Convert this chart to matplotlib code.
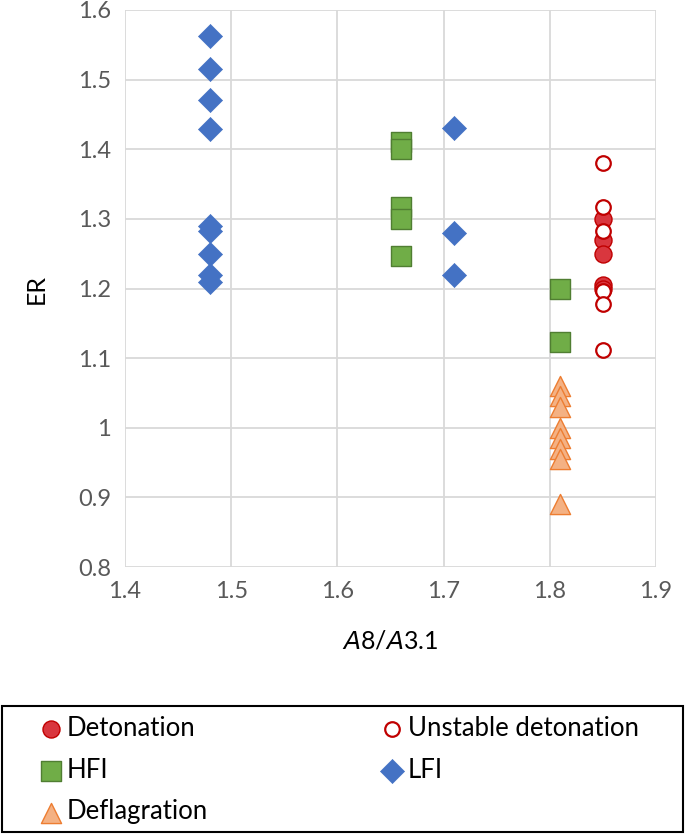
import numpy as np
import matplotlib.pyplot as plt
from matplotlib.patches import Rectangle

plt.rcParams['font.family'] = ['Lato', 'DejaVu Sans']

# data
det_x = [1.85, 1.85, 1.85, 1.85, 1.85]
det_y = [1.30, 1.27, 1.25, 1.205, 1.20]

unst_x = [1.85, 1.85, 1.85, 1.85, 1.85, 1.85]
unst_y = [1.38, 1.317, 1.282, 1.197, 1.178, 1.112]

hfi_x = [1.66, 1.66, 1.66, 1.66, 1.66, 1.81, 1.81]
hfi_y = [1.41, 1.40, 1.317, 1.30, 1.247, 1.20, 1.123]

lfi_x = [1.48] * 9 + [1.71] * 3
lfi_y = [1.563, 1.515, 1.471, 1.429, 1.29, 1.282, 1.25, 1.22, 1.21,
         1.43, 1.28, 1.22]

defl_x = [1.81] * 8
defl_y = [1.06, 1.045, 1.03, 1.0, 0.985, 0.97, 0.955, 0.89]

W, H = 685, 834
fig = plt.figure(figsize=(W / 100, H / 100), dpi=100)
ax = fig.add_axes([125/W, 1 - 567/H, (656-125)/W, (567-10)/H])

h_det = ax.scatter(det_x, det_y, s=150, marker='o', facecolor='#D9363E',
                   edgecolor='#C00000', lw=1, label='Detonation', zorder=3)
h_uns = ax.scatter(unst_x, unst_y, s=110, marker='o', facecolor='white',
                   edgecolor='#C00000', lw=1.6, label='Unstable detonation', zorder=4)
h_hfi = ax.scatter(hfi_x, hfi_y, s=190, marker='s', facecolor='#70AD47',
                   edgecolor='#507E32', lw=1, label='HFI', zorder=3)
h_lfi = ax.scatter(lfi_x, lfi_y, s=150, marker='D', facecolor='#4472C4',
                   edgecolor='#4472C4', lw=0.5, label='LFI', zorder=3)
h_def = ax.scatter(defl_x, defl_y, s=210, marker='^', facecolor='#F4B183',
                   edgecolor='#ED7D31', lw=1, label='Deflagration', zorder=3)

ax.set_xlim(1.4, 1.9)
ax.set_ylim(0.8, 1.6)
ax.set_xticks(np.arange(1.4, 1.91, 0.1))
ax.set_yticks(np.arange(0.8, 1.61, 0.1))
ax.set_xticklabels(['1.4', '1.5', '1.6', '1.7', '1.8', '1.9'])
ax.set_yticklabels(['0.8', '0.9', '1', '1.1', '1.2', '1.3', '1.4', '1.5', '1.6'])
ax.grid(True, color='#D9D9D9', lw=1.3)
ax.set_axisbelow(True)
for s in ax.spines.values():
    s.set_visible(False)
ax.tick_params(length=0, labelsize=17, labelcolor='#595959', pad=10)

ax.set_ylabel('ER', fontsize=18, labelpad=22)
ax.set_xlabel(r'$\it{A}$8/$\it{A}$3.1', fontsize=18, labelpad=20)

# legend box drawn separately, Excel style
fig.patches.append(Rectangle((2/W, 2/H), 681/W, (832-706)/H,
                             transform=fig.transFigure, fill=False,
                             edgecolor='black', lw=1.5))
leg_kw = dict(loc='upper left', fontsize=18.5, frameon=False,
              handletextpad=0.1, labelspacing=0.66, borderpad=0.3,
              handlelength=1.0, scatterpoints=1)
leg1 = fig.legend(handles=[h_det, h_hfi, h_def],
                  bbox_to_anchor=(18/W, 1 - 695/H), **leg_kw)
leg2 = fig.legend(handles=[h_uns, h_lfi],
                  bbox_to_anchor=(359/W, 1 - 695/H), **leg_kw)

plt.savefig('out.png', dpi=100, facecolor='white')
